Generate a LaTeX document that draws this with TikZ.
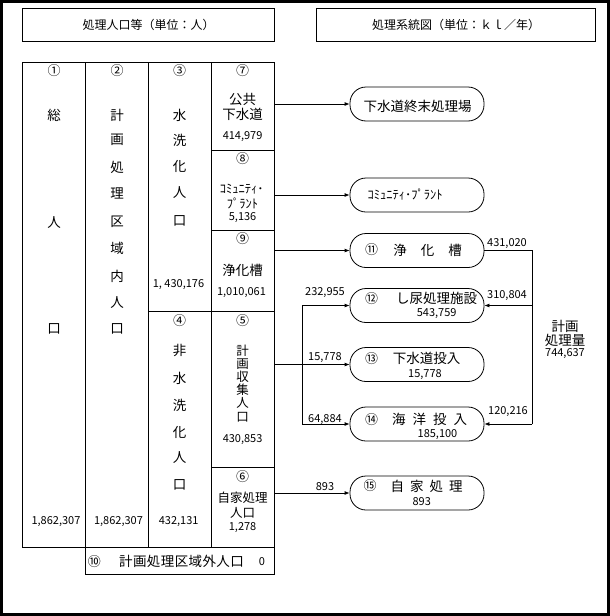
\documentclass[tikz,border=0pt]{standalone}
\usepackage{fontspec}
\setmainfont{Noto Sans CJK JP}
\usetikzlibrary{arrows.meta}
\tikzset{
  ln/.style={line width=0.8pt},
  frame/.style={line width=3.2pt},
  hdr/.style={draw, line width=0.8pt, minimum height=33.4pt, inner sep=0pt, font=\fontsize{12}{12}\selectfont},
  capsule/.style={draw, line width=0.8pt, rounded corners=16pt, minimum width=134pt, minimum height=34pt, inner sep=0pt},
  jp/.style={inner sep=0pt, font=\fontsize{13.5}{13.5}\selectfont},
  jps/.style={inner sep=0pt, font=\fontsize{12.5}{12.5}\selectfont},
  num/.style={inner sep=0pt, font=\fontsize{11}{11}\selectfont},
  circ/.style={inner sep=0pt, font=\fontsize{13}{13}\selectfont},
  arr/.style={line width=0.8pt, -{Latex[length=5pt,width=4pt]}}
}
\begin{document}
\begin{tikzpicture}[x=1pt, y=-1pt]
\useasboundingbox (0,0) rectangle (610,616);
% outer frame
\draw[frame] (1.6,1.6) rectangle (608.2,614.2);
% headers
\node[hdr, minimum width=252pt] (hdrL) at (148.6,25) {処理人口等（単位：人）};
\node[hdr, minimum width=278.7pt] (hdrR) at (456.2,25) {処理系統図（単位：ｋｌ／年）};
% table grid
\draw[ln] (22.3,62.3) rectangle (274.3,547.3);
\draw[ln] (85.7,62.3) -- (85.7,574) -- (274.3,574) -- (274.3,547.3);
\draw[ln] (148.3,62.3) -- (148.3,547.3);
\draw[ln] (211,62.3) -- (211,547.3);
\draw[ln] (211,150.3) -- (274.3,150.3);
\draw[ln] (211,230.3) -- (274.3,230.3);
\draw[ln] (148.3,311.5) -- (274.3,311.5);
\draw[ln] (211,467.3) -- (274.3,467.3);
% column 1
\node[circ] (n1) at (54,71) {①};
\node[jp] (c1a) at (54,115) {総};
\node[jp] (c1b) at (54,223) {人};
\node[jp] (c1c) at (54,329) {口};
\node[num] (v1) at (56,522) {1,862,307};
% column 2
\node[circ] (n2) at (117,71) {②};
\foreach \c/\yy [count=\i] in {計/115,画/140,処/167,理/193,区/222,域/248,内/276,人/303,口/329}
  \node[jp] (c2-\i) at (117,\yy) {\c};
\node[num] (v2) at (118.5,522) {1,862,307};
% column 3
\node[circ] (n3) at (179.6,71) {③};
\foreach \c/\yy [count=\i] in {水/115,洗/140,化/166,人/193,口/221}
  \node[jp] (c3-\i) at (179.6,\yy) {\c};
\node[num] (v3) at (178.5,285) {1, 430,176};
\node[circ] (n4) at (179.6,321) {④};
\foreach \c/\yy [count=\i] in {非/350,水/378,洗/405,化/432,人/458,口/485}
  \node[jp] (c4-\i) at (179.6,\yy) {\c};
\node[num] (v4) at (178.7,522) {432,131};
% column 4
\node[circ] (n7) at (242.6,71) {⑦};
\node[jp] (t7a) at (242.6,99) {公共};
\node[jp] (t7b) at (242.6,114) {下水道};
\node[num] (v7) at (242.6,137) {414,979};
\node[circ] (n8) at (242.6,159) {⑧};
\node[jps] (t8a) at (241.7,189) {ｺﾐｭﾆﾃｨ･};
\node[jps] (t8b) at (242.5,203) {ﾌﾟﾗﾝﾄ};
\node[num] (v8) at (242.6,218) {5,136};
\node[circ] (n9) at (242.6,239) {⑨};
\node[jp] (t9) at (242.6,270) {浄化槽};
\node[num] (v9) at (241.5,293) {1,010,061};
\node[circ] (n5) at (242.6,321) {⑤};
\foreach \c/\yy [count=\i] in {計/351,画/364,収/377,集/390,人/403,口/417}
  \node[jps] (t5-\i) at (242.6,\yy) {\c};
\node[num] (v5) at (242.6,440) {430,853};
\node[circ] (n6) at (242.6,477) {⑥};
\node[jps] (t6a) at (242.6,498) {自家処理};
\node[jps] (t6b) at (242.6,513) {人口};
\node[num] (v6) at (242.6,528) {1,278};
% row 10
\node[circ] (n10) at (94.3,561.5) {⑩};
\node[jp] (t10) at (181.5,561.5) {\addfontfeatures{LetterSpace=3}計画処理区域外人口};
\node[num] (v10) at (262,561.5) {0};
% capsules
\node[capsule] (k1) at (417,104) {};
\node[jp] (k1t) at (417.5,106) {下水道終末処理場};
\node[capsule] (k2) at (417,195) {};
\node[jps] (k2t) at (405,195) {ｺﾐｭﾆﾃｨ･ﾌﾟﾗﾝﾄ};
\node[capsule] (k11) at (417,250.5) {};
\node[circ] (n11) at (371.7,250) {⑪};
\node[jp] (k11t) at (427.5,250) {浄\hspace{14pt}化\hspace{14pt}槽};
\node[capsule] (k12) at (417,305.5) {};
\node[circ] (n12) at (371.7,298.3) {⑫};
\node[jp] (k12t) at (436.7,298.3) {し尿処理施設};
\node[num] (k12v) at (436.7,314) {543,759};
\node[capsule] (k13) at (417,364.5) {};
\node[circ] (n13) at (371.7,358.3) {⑬};
\node[jp] (k13t) at (426.7,358.3) {下水道投入};
\node[num] (k13v) at (425,374.3) {15,778};
\node[capsule] (k14) at (417,424) {};
\node[circ] (n14) at (371.7,419.3) {⑭};
\node[jp] (k14t) at (429.7,419.3) {海\hspace{7pt}洋\hspace{7pt}投\hspace{7pt}入};
\node[num] (k14v) at (437.5,435) {185,100};
\node[capsule] (k15) at (417,493) {};
\node[circ] (n15) at (370,486) {⑮};
\node[jp] (k15t) at (426.7,486) {自\hspace{6pt}家\hspace{6pt}処\hspace{6pt}理};
\node[num] (k15v) at (421.7,501.7) {893};
% connector points
\coordinate (s7) at (274.3,104);
\coordinate (s8) at (274.3,195);
\coordinate (s9) at (274.3,250.5);
\coordinate (s5) at (274.3,364.5);
\coordinate (s6) at (274.3,493);
\coordinate (jt) at (302.3,305.5);
\coordinate (jb) at (302.3,424);
\coordinate (rt) at (532.3,250.5);
\coordinate (rm) at (532.3,305.5);
\coordinate (rb) at (532.3,424);
% connectors
\draw[arr] (s7) -- (k1.west);
\draw[arr] (s8) -- (k2.west);
\draw[arr] (s9) -- (k11.west);
\draw[arr] (s5) -- (k13.west);
\draw[arr] (s6) -- (k15.west);
\draw[ln] (jt) -- (jb);
\draw[arr] (jt) -- (k12.west);
\draw[arr] (jb) -- (k14.west);
\draw[ln] (k11.east) -- (rt) -- (rb);
\draw[arr] (rm) -- (k12.east);
\draw[arr] (rb) -- (k14.east);
% flow labels
\node[num] (l1) at (507,243.5) {431,020};
\node[num] (l2) at (507,295.5) {310,804};
\node[num] (l3) at (508,411.7) {120,216};
\node[num] (l4) at (325,292.5) {232,955};
\node[num] (l5) at (325,358) {15,778};
\node[num] (l6) at (325,419.5) {64,884};
\node[num] (l7) at (325,486.7) {893};
\node[jp] (p1) at (565,326) {計画};
\node[jp] (p2) at (565,340) {処理量};
\node[num] (p3) at (565,353.3) {744,637};
\end{tikzpicture}
\end{document}
